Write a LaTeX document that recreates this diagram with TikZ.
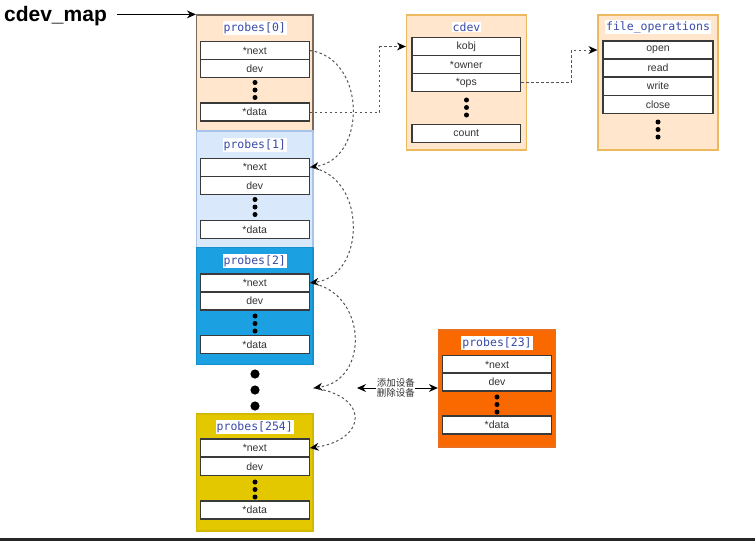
\documentclass[tikz,border=0pt]{standalone}
\usepackage{fontspec}
\setmainfont{Liberation Sans}
\newfontfamily\monof{DejaVu Sans Mono}
\newfontfamily\cjkf{Noto Sans CJK SC}
\usetikzlibrary{arrows.meta,calc}
\definecolor{rowc}{HTML}{3A3A3A}
\definecolor{ttlc}{HTML}{3A4AA8}
\definecolor{peach}{HTML}{FFE6CC}
\definecolor{peachd}{HTML}{7A6A5C}
\definecolor{peacho}{HTML}{EDB95E}
\definecolor{lblue}{HTML}{DAE8FC}
\definecolor{lblued}{HTML}{A9C4EB}
\definecolor{mblue}{HTML}{1BA1E2}
\definecolor{mblued}{HTML}{1590CF}
\definecolor{yel}{HTML}{E3C800}
\definecolor{yeld}{HTML}{D2B800}
\definecolor{orng}{HTML}{FA6800}
\definecolor{orngd}{HTML}{E8701E}
\definecolor{dashc}{HTML}{555555}
\tikzset{
  cont/.style={draw, line width=1.2pt, inner sep=0pt, minimum width=116.5pt, minimum height=116.5pt},
  wide/.style={draw, line width=1.2pt, inner sep=0pt, minimum width=120pt, minimum height=135pt},
  rowbox/.style={draw=rowc, fill=white, line width=1.2pt, inner sep=0pt, minimum width=109pt, minimum height=18pt, font=\fontsize{10.5}{12}\selectfont, text=black!80},
  ttl/.style={fill=white, inner sep=1pt, font=\monof\fontsize{11.5}{13}\selectfont, text=ttlc},
  dotline/.style={dashc, line width=1pt, dash pattern=on 2.5pt off 2.5pt},
  tip/.style={-{Stealth[length=9pt,width=8pt,line width=0pt,color=black]}},
  bitip/.style={{Stealth[length=9pt,width=8pt,line width=0pt,color=black]}-{Stealth[length=9pt,width=8pt,line width=0pt,color=black]}},
}
\newcommand{\mydots}[2]{\fill (#1,#2) circle[radius=2.5pt] (#1,#2+7.5) circle[radius=2.5pt] (#1,#2+15) circle[radius=2.5pt];}
\begin{document}
\begin{tikzpicture}[x=1pt,y=-1pt]
\useasboundingbox (0,0) rectangle (755,541);
\fill[black!85] (0,537.5) rectangle (755,541);

% cdev_map label
\node[font=\bfseries\fontsize{21}{24}\selectfont, inner sep=0pt] (map) at (55.5,16) {cdev\_map};

% probes[0]
\node[cont, fill=peach, draw=peachd, minimum height=116pt] (p0) at (254.75,73) {};
\node[ttl] (p0t) at (254.75,28) {probes[0]};
\node[rowbox] (p0n) at (254.75,50.5) {*next};
\node[rowbox] (p0v) at (254.75,68.5) {dev};
\node[rowbox] (p0d) at (254.75,112) {*data};
\mydots{255}{82.5}

% probes[1]
\node[cont, fill=lblue, draw=lblued] (p1) at (254.75,189.25) {};
\node[ttl] (p1t) at (254.75,145) {probes[1]};
\node[rowbox] (p1n) at (254.75,167.3) {*next};
\node[rowbox] (p1v) at (254.75,185.3) {dev};
\node[rowbox] (p1d) at (254.75,229.5) {*data};
\mydots{255}{199.5}

% probes[2]
\node[cont, fill=mblue, draw=mblued, minimum height=117pt] (p2) at (254.75,306.25) {};
\node[ttl] (p2t) at (254.75,261) {probes[2]};
\node[rowbox] (p2n) at (254.75,283) {*next};
\node[rowbox] (p2v) at (254.75,301) {dev};
\node[rowbox] (p2d) at (254.75,344.8) {*data};
\mydots{255}{316}

% big dots
\fill (255,374) circle[radius=4.6pt] (255,390) circle[radius=4.6pt] (255,406) circle[radius=4.6pt];

% probes[254]
\node[cont, fill=yel, draw=yeld, minimum height=117pt] (p3) at (254.75,472.5) {};
\node[ttl] (p3t) at (254.75,427) {probes[254]};
\node[rowbox] (p3n) at (254.75,448) {*next};
\node[rowbox] (p3v) at (254.75,466.5) {dev};
\node[rowbox] (p3d) at (254.75,510) {*data};
\mydots{255}{482}

% probes[23]
\node[cont, fill=orng, draw=orngd, minimum width=117pt, minimum height=117pt] (p23) at (497,388.5) {};
\node[ttl] (p23t) at (497,343) {probes[23]};
\node[rowbox, minimum width=108.5pt] (p23n) at (497,364.5) {*next};
\node[rowbox, minimum width=108.5pt] (p23v) at (497,382) {dev};
\node[rowbox, minimum width=108.5pt] (p23d) at (497,425) {*data};
\mydots{497}{397}

% cdev
\node[wide, fill=peach, draw=peacho] (cdev) at (466.5,82.5) {};
\node[ttl] (cdevt) at (466.5,27) {cdev};
\node[rowbox, minimum width=108.5pt] (kobj) at (466.3,46.5) {kobj};
\node[rowbox, minimum width=108.5pt] (owner) at (466.3,64.5) {*owner};
\node[rowbox, minimum width=108.5pt] (ops) at (466.3,82.5) {*ops};
\node[rowbox, minimum width=108.5pt] (count) at (466.3,133.5) {count};
\mydots{466.5}{100}

% file_operations
\node[wide, fill=peach, draw=peacho] (fo) at (658,82.5) {};
\node[ttl] (fot) at (658,27) {file\_operations};
\node[rowbox, minimum width=110pt] (fopen) at (658,50) {open};
\node[rowbox, minimum width=110pt] (fread) at (658,68) {read};
\node[rowbox, minimum width=110pt] (fwrite) at (658,86.2) {write};
\node[rowbox, minimum width=110pt] (fclose) at (658,104.3) {close};
\mydots{658}{122}

% connectors
\draw[line width=1pt, tip] ([xshift=10pt]map.east |- p0.north west) -- (p0.north west);
\draw[dotline, tip] (p0d.east) -- ++(70,0) |- (cdev.west |- kobj.center);
\draw[dotline, tip] (ops.east) -- ++(50,0) |- (fo.west |- fopen.center);

\draw[dotline, tip] (p0n.east) .. controls +(57,8) and +(57,-8) .. (p1n.east);
\draw[dotline, tip] (p1n.east) .. controls +(57,8) and +(57,-8) .. (p2n.east);
\coordinate (gap) at (313.5,388);
\draw[dotline, tip] (p2n.east) .. controls +(57,8) and +(57,-8) .. (gap);
\draw[dotline, tip] (gap) .. controls +(57,8) and +(57,-8) .. (p3n.east);

\coordinate (bl) at (357,388);
\draw[line width=1pt, bitip] (bl) -- (p23.west |- bl)
  node[pos=0.48, fill=white, inner sep=0.5pt, align=center, font=\cjkf\fontsize{9.5}{10.5}\selectfont, text=black!80] (lbl) {添加设备\\删除设备};
\end{tikzpicture}
\end{document}
